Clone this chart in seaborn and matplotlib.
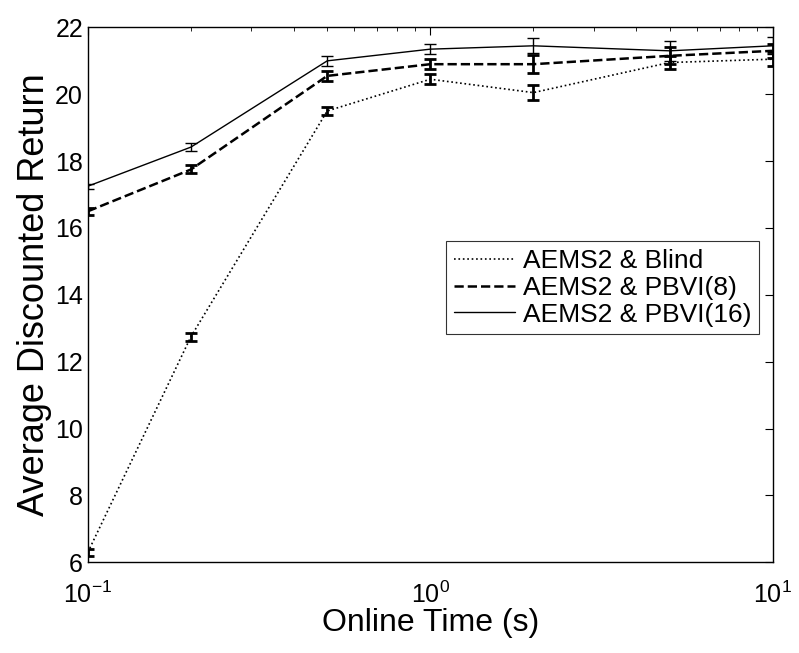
import numpy as np
import pandas as pd
import matplotlib
matplotlib.use('Agg')
import matplotlib.pyplot as plt
import seaborn as sns

sns.set_style('white')
plt.rcParams['font.family'] = ['Liberation Sans', 'DejaVu Sans']
plt.rcParams['mathtext.fontset'] = 'custom'
plt.rcParams['mathtext.rm'] = 'Liberation Sans'
plt.rcParams['text.color'] = 'black'
plt.rcParams['axes.labelcolor'] = 'black'

# Data
online_time = [0.1, 0.2, 0.5, 1, 2, 5, 10]
blind_mean = [6.3, 12.75, 19.5, 20.45, 20.05, 20.95, 21.05]
blind_err = [0.1, 0.12, 0.12, 0.15, 0.22, 0.2, 0.2]
pbvi8_mean = [16.5, 17.75, 20.55, 20.9, 20.9, 21.15, 21.3]
pbvi8_err = [0.1, 0.12, 0.15, 0.15, 0.27, 0.25, 0.2]
pbvi16_mean = [17.25, 18.42, 21.0, 21.35, 21.45, 21.3, 21.45]
pbvi16_err = [0.08, 0.12, 0.15, 0.15, 0.23, 0.3, 0.25]
labels = ['AEMS2 & Blind', 'AEMS2 & PBVI(8)', 'AEMS2 & PBVI(16)']

series = [
    (labels[0], blind_mean, blind_err, ':', 1.2, 2.0),
    (labels[1], pbvi8_mean, pbvi8_err, '--', 1.8, 2.0),
    (labels[2], pbvi16_mean, pbvi16_err, '-', 1.0, 1.0),
]

fig = plt.figure(figsize=(7.99, 6.53), dpi=100)
ax = fig.add_axes([0.110, 0.139, 0.857, 0.819])

for name, mean, err, ls, lw, elw in series:
    df = pd.DataFrame({'t': online_time, 'v': mean})
    sns.lineplot(data=df, x='t', y='v', ax=ax, color='black',
                 linestyle=ls, linewidth=lw, label=name)
    ax.errorbar(online_time, mean, yerr=err, fmt='none', ecolor='black',
                elinewidth=elw, capsize=4, capthick=elw)

ax.set_xscale('log')
ax.set_xlim(0.1, 10)
ax.set_ylim(6, 22)
ax.set_yticks(np.arange(6, 23, 2))
ax.set_xlabel('Online Time (s)', fontsize=23, labelpad=0)
ax.set_ylabel('Average Discounted Return', fontsize=26, labelpad=2)
ax.tick_params(axis='both', which='both', direction='in', top=True,
               right=True, labelsize=18, colors='black')
ax.tick_params(axis='x', which='major', pad=14)
ax.tick_params(which='major', length=6)
ax.tick_params(which='minor', length=3)
for s in ax.spines.values():
    s.set_color('black')
    s.set_linewidth(1.0)

leg = ax.legend(loc='upper right', bbox_to_anchor=(0.98, 0.60),
                borderaxespad=0, fontsize=19, frameon=True,
                fancybox=False, edgecolor='black', handlelength=2.3,
                handletextpad=0.3, borderpad=0.3, labelspacing=0.1)
leg.get_frame().set_linewidth(0.8)
for t in leg.get_texts():
    t.set_color('black')

fig.savefig('out.png', dpi=100)
